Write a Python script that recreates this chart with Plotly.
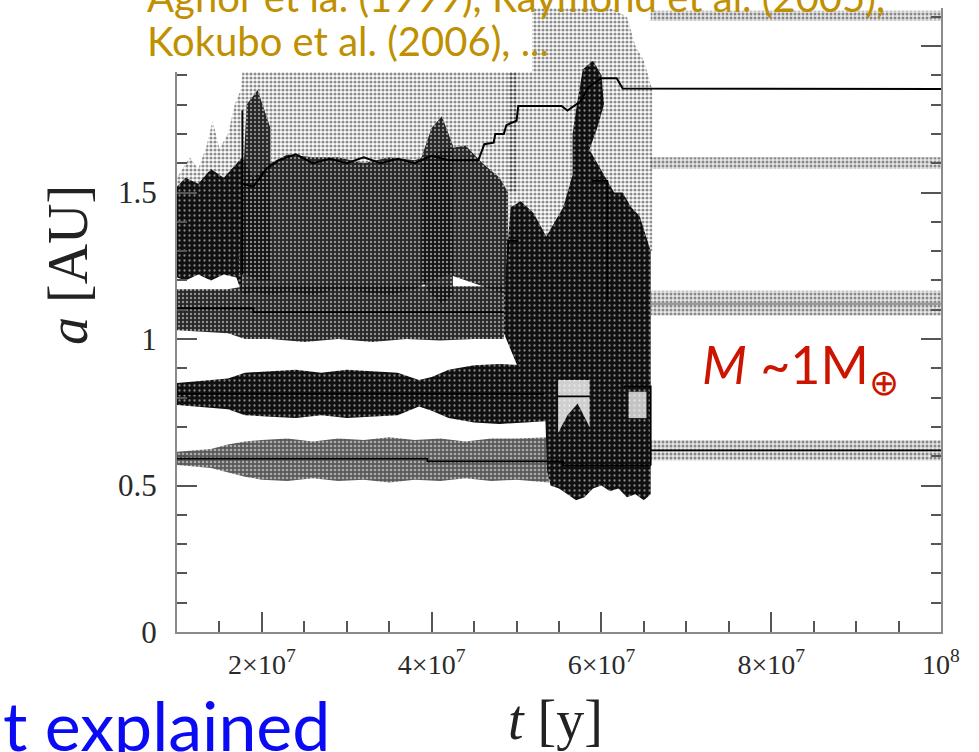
import plotly.graph_objects as go

MYR = 1e6  # time arrays below are in Myr

# ---------------- first stage: q/Q scatter envelopes (t [Myr], a [AU]) ----------------
p1_t  = [10, 12, 14, 16, 18, 20, 23, 26, 29, 32, 35, 38, 41, 44, 47, 50, 53.8]
p1_hi = [0.615, 0.62, 0.625, 0.64, 0.65, 0.655, 0.66, 0.65, 0.66, 0.655, 0.665, 0.655, 0.66, 0.65, 0.66, 0.66, 0.665]
p1_lo = [0.57, 0.565, 0.56, 0.545, 0.53, 0.52, 0.515, 0.525, 0.515, 0.52, 0.51, 0.52, 0.515, 0.525, 0.515, 0.52, 0.51]

p2_t  = [10, 12, 14, 16, 18, 21, 24, 27, 30, 33, 36, 38.5, 40, 42, 45, 48, 51, 53.8]
p2_hi = [0.85, 0.855, 0.86, 0.865, 0.885, 0.89, 0.895, 0.885, 0.895, 0.89, 0.885, 0.86, 0.87, 0.895, 0.91, 0.915, 0.91, 0.9]
p2_lo = [0.775, 0.77, 0.765, 0.76, 0.74, 0.735, 0.73, 0.74, 0.73, 0.735, 0.74, 0.77, 0.755, 0.73, 0.715, 0.71, 0.715, 0.72]

p3_t  = [10, 13, 16, 18, 21, 25, 29, 33, 37, 41, 45, 48.5]
p3_hi = [1.17, 1.17, 1.17, 1.18, 1.18, 1.18, 1.18, 1.18, 1.18, 1.18, 1.18, 1.18]
p3_lo = [1.03, 1.025, 1.02, 1.0, 1.0, 0.99, 1.0, 0.99, 1.0, 0.995, 1.0, 1.0]

# outer body, early (densest) and later pericentre scatter
p4e_t  = [10, 11, 12.5, 14, 15.5, 17, 17.7]
p4e_hi = [1.52, 1.55, 1.53, 1.58, 1.55, 1.6, 1.62]
p4e_lo = [1.21, 1.2, 1.22, 1.2, 1.22, 1.21, 1.15]
p4_t  = [17.7, 19, 21, 23, 26, 29, 32, 35, 38, 40, 42, 44, 46, 48, 49]
p4_hi = [1.62, 1.55, 1.6, 1.63, 1.62, 1.62, 1.6, 1.62, 1.61, 1.63, 1.65, 1.66, 1.6, 1.55, 1.5]
p4_lo = [1.15, 1.16, 1.15, 1.16, 1.15, 1.17, 1.16, 1.15, 1.17, 1.2, 1.22, 1.2, 1.18, 1.16, 1.15]

# sparse apocentre dots of the outer body
p4u_t  = [10, 11.5, 12.5, 13.5, 14.2, 15, 16, 16.8, 17.5, 18, 50]
p4u_hi = [1.55, 1.62, 1.58, 1.66, 1.745, 1.65, 1.7, 1.8, 1.85, 2.0, 2.0]
p4u_lo = [1.5, 1.5, 1.5, 1.5, 1.5, 1.5, 1.5, 1.5, 1.5, 1.5, 1.5]

# darker eccentric excursions of the outer body
col1_t = [17.3, 18.2, 19.5, 21.0, 21.0, 19.5, 18.2, 17.3]
col1_a = [1.25, 1.8, 1.85, 1.72, 1.2, 1.2, 1.22, 1.22]
col2_t = [38.8, 40.0, 41.2, 42.5, 42.5, 41.2, 40.0, 38.8]
col2_a = [1.62, 1.72, 1.76, 1.66, 1.15, 1.12, 1.15, 1.2]

# ---------------- giant-impact stage ----------------
ch_top_t = [48.5, 49.3, 50.5, 52.0, 53.5, 54.5, 55.5, 56.5, 57.5, 58.5, 59.5, 60.5, 61.5, 62.5, 63.5, 64.5, 65.3, 65.8]
ch_top_a = [1.15, 1.45, 1.47, 1.43, 1.35, 1.4, 1.45, 1.55, 1.62, 1.65, 1.6, 1.55, 1.5, 1.5, 1.45, 1.42, 1.35, 1.3]
ch_bot_t = [65.8, 65.0, 64.0, 63.0, 62.0, 61.0, 60.0, 59.0, 58.0, 57.0, 56.0, 55.0, 54.0, 53.6, 53.4, 52.0, 50.5, 49.5, 48.5]
ch_bot_a = [0.47, 0.45, 0.47, 0.46, 0.49, 0.48, 0.5, 0.49, 0.46, 0.45, 0.47, 0.49, 0.5, 0.55, 0.72, 0.74, 0.88, 0.95, 1.02]

knot_t = [57.0, 57.8, 59.0, 60.0, 60.3, 59.5, 58.0, 56.6, 56.6]
knot_a = [1.78, 1.92, 1.95, 1.9, 1.8, 1.72, 1.6, 1.55, 1.7]

sp_t  = [49, 52, 55, 58, 61, 63, 64, 65, 66]
sp_hi = [2.13, 2.13, 2.13, 2.13, 2.13, 2.1, 2.0, 1.95, 1.85]
sp_lo = [1.3, 1.3, 1.3, 1.3, 1.3, 1.3, 1.3, 1.3, 1.3]

hole_a_t = [54.9, 58.6, 58.6, 57.2, 56.0, 54.9]
hole_a_a = [0.86, 0.86, 0.70, 0.78, 0.74, 0.68]
hole_b_t = [63.2, 65.3, 65.3, 63.2]
hole_b_a = [0.82, 0.82, 0.73, 0.73]

# ---------------- final stage ----------------
fin_t = [65.8, 100]
fin_in_a, fin_in_lo, fin_in_hi = [0.62, 0.62], [0.585, 0.585], [0.655, 0.655]
fin_mid_a, fin_mid_lo, fin_mid_hi = [1.12, 1.12], [1.08, 1.08], [1.165, 1.165]
fin_q_lo, fin_q_hi = [1.58, 1.58], [1.62, 1.62]
fin_Q_lo, fin_Q_hi = [2.085, 2.085], [2.12, 2.12]

# ---------------- semimajor axes (solid lines) ----------------
a1_t = [10, 39.5, 55.5, 65.8]
a1_a = [0.592, 0.582, 0.568, 0.568]
a2_t = [10, 53.2, None, 54.8, 58.7, None, 62.6, 65.8, 65.8]
a2_a = [0.813, 0.813, None, 0.804, 0.804, None, 0.838, 0.838, 0.568]
a3_t = [10, 19, 48.5, None, 49.0, 49.0, 50.2]
a3_a = [1.105, 1.092, 1.092, None, 1.29, 1.335, 1.335]
a4_t = [17.7, 19, 20.5, 22, 24, 26, 28, 30, 32, 34, 36, 38, 40, 42, 43, 45.5, 46.2, 47.3,
        47.5, 48.5, 48.8, 50.0, 50.2, 55.3, 56.0, 57.5, 58.5, 60.0, 61.8, 62.5, 100]
a4_a = [1.53, 1.52, 1.58, 1.61, 1.63, 1.6, 1.615, 1.6, 1.62, 1.6, 1.615, 1.6, 1.625, 1.61, 1.61, 1.61, 1.665, 1.67,
        1.70, 1.70, 1.73, 1.745, 1.795, 1.795, 1.78, 1.81, 1.86, 1.89, 1.89, 1.855, 1.853]
a5_t = [17.7, 17.7, None, 58.9, 60.7, 60.7]
a5_a = [1.22, 1.78, None, 1.54, 1.54, 1.13]

xticks = [2e7, 4e7, 6e7, 8e7, 1e8]
xticktext = ["2×10<sup>7</sup>", "4×10<sup>7</sup>", "6×10<sup>7</sup>", "8×10<sup>7</sup>", "10<sup>8</sup>"]
yticks = [0, 0.5, 1, 1.5, 2]
yticktext = ["0", "0.5", "1", "1.5", ""]

# stipple textures for the scattered q/Q points
BLACK = dict(shape=".", fgcolor="#ffffff", bgcolor="#101010", size=5, solidity=0.16)
DARK = dict(shape=".", fgcolor="#ffffff", bgcolor="rgba(15,15,15,0.9)", size=4, solidity=0.28)
MID = dict(shape=".", fgcolor="#ffffff", bgcolor="rgba(25,25,25,0.72)", size=4, solidity=0.35)
DOTS = dict(shape=".", fgcolor="#1e1e1e", bgcolor="rgba(255,255,255,0)", size=4, solidity=0.5)
FINE = dict(shape=".", fgcolor="#2a2a2a", bgcolor="rgba(160,160,160,0.25)", size=4, solidity=0.45)

fig = go.Figure()


def yrs(t):
    return [None if v is None else v * MYR for v in t]


def band(t, lo, hi, pattern):
    xs = yrs(t) + yrs(t[::-1])
    ys = list(hi) + list(lo[::-1])
    fig.add_trace(go.Scatter(x=xs, y=ys, mode="lines", fill="toself", line=dict(width=0),
                             fillcolor="rgba(0,0,0,0)", fillpattern=pattern,
                             hoverinfo="skip", showlegend=False))


def poly(t, a, fillcolor, pattern=None):
    fig.add_trace(go.Scatter(x=yrs(t), y=a, mode="lines", fill="toself", line=dict(width=0),
                             fillcolor=fillcolor, fillpattern=pattern,
                             hoverinfo="skip", showlegend=False))


def curve(t, a, color="#000000", width=1.8, shape="linear"):
    fig.add_trace(go.Scatter(x=yrs(t), y=a, mode="lines", line=dict(color=color, width=width, shape=shape),
                             connectgaps=False, hoverinfo="skip", showlegend=False))


# scatter envelopes
band(p4u_t, p4u_lo, p4u_hi, DOTS)
band(sp_t, sp_lo, sp_hi, DOTS)
band(p4e_t, p4e_lo, p4e_hi, BLACK)
band(p4_t, p4_lo, p4_hi, DARK)
poly(col1_t, col1_a, "rgba(0,0,0,0)", DARK)
poly(col2_t, col2_a, "rgba(0,0,0,0)", DARK)
band(p3_t, p3_lo, p3_hi, DARK)
band(p2_t, p2_lo, p2_hi, BLACK)
band(p1_t, p1_lo, p1_hi, MID)
poly(ch_top_t + ch_bot_t, ch_top_a + ch_bot_a, "rgba(0,0,0,0)", BLACK)
poly(knot_t, knot_a, "rgba(0,0,0,0)", BLACK)
poly(hole_a_t, hole_a_a, "rgba(255,255,255,0.8)")
poly(hole_b_t, hole_b_a, "rgba(255,255,255,0.75)")

band(fin_t, fin_in_lo, fin_in_hi, FINE)
band(fin_t, fin_mid_lo, fin_mid_hi, FINE)
band(fin_t, fin_q_lo, fin_q_hi, FINE)
band(fin_t, fin_Q_lo, fin_Q_hi, FINE)

# semimajor axes
curve(a1_t, a1_a, shape="hv")
curve(a2_t, a2_a)
curve(a3_t, a3_a, shape="hv")
curve(a4_t, a4_a, width=2)
curve(a5_t, a5_a)
curve(fin_t, fin_in_a)
curve(fin_t, fin_mid_a, color="#9a9a9a", width=2.2)

# plot area in pixels: x 177..941, y 8..632
L, R, T, B = 177, 941, 8, 632


def px(x):
    return (x - L) / (R - L)


def py(y):
    return (B - y) / (B - T)


serif = "Liberation Serif, DejaVu Serif, serif"
xtickfont = dict(family=serif, size=28, color="#2a2a2a")
ytickfont = dict(family=serif, size=31, color="#2a2a2a")

fig.update_layout(
    width=979, height=752,
    margin=dict(l=L, r=979 - R, t=T, b=752 - B),
    plot_bgcolor="white", paper_bgcolor="white",
    showlegend=False,
    xaxis=dict(range=[1e7, 1e8], tickvals=xticks, ticktext=xticktext, ticks="inside", ticklen=20,
               tickwidth=1.5, tickcolor="#555555", showline=True, linecolor="#8a8a8a", linewidth=2,
               mirror=False, showgrid=False, zeroline=False, tickfont=xtickfont, ticklabelstandoff=6,
               minor=dict(dtick=5e6, tick0=0, ticks="inside", ticklen=11, tickwidth=1.5,
                          tickcolor="#555555", showgrid=False)),
    yaxis=dict(range=[0, (B - T) / 293.0], tickvals=yticks, ticktext=yticktext, ticks="inside", ticklen=20,
               tickwidth=1.5, tickcolor="#555555", showline=True, linecolor="#8a8a8a", linewidth=2,
               mirror="ticks", showgrid=False, zeroline=False, tickfont=ytickfont, ticklabelstandoff=12,
               minor=dict(dtick=0.1, tick0=0, ticks="inside", ticklen=10, tickwidth=1.5,
                          tickcolor="#555555", showgrid=False)),
    shapes=[dict(type="rect", xref="paper", yref="paper", x0=px(140), x1=px(532), y0=py(72), y1=py(-2),
                 fillcolor="white", line=dict(width=0), layer="above")],
)

gold = "#BF9000"
fig.add_annotation(xref="paper", yref="paper", x=px(145), y=py(-3), xanchor="left", yanchor="middle",
                   text="Agnor et la. (1999), Raymond et al. (2005),", showarrow=False,
                   font=dict(family="Lato, Open Sans, sans-serif", size=40, color=gold))
fig.add_annotation(xref="paper", yref="paper", x=px(145), y=py(41), xanchor="left", yanchor="middle",
                   text="Kokubo et al. (2006), ...", showarrow=False,
                   font=dict(family="Lato, Open Sans, sans-serif", size=40, color=gold))

fig.add_annotation(xref="paper", yref="paper", x=px(700), y=py(368), xanchor="left", yanchor="middle",
                   text="<i>M</i> ~1M<sub>⊕</sub>", showarrow=False,
                   font=dict(family="Lato, Open Sans, sans-serif", size=52, color="#CC1500"))

fig.add_annotation(xref="paper", yref="paper", x=px(1), y=py(724), xanchor="left", yanchor="middle",
                   text="t explained", showarrow=False,
                   font=dict(family="Lato, Open Sans, sans-serif", size=68, color="#0A0AF5"))

fig.add_annotation(xref="paper", yref="paper", x=px(68), y=py(265), xanchor="center", yanchor="middle",
                   text="<i>a</i> [AU]", textangle=-90, showarrow=False,
                   font=dict(family=serif, size=56, color="#222222"))
fig.add_annotation(xref="paper", yref="paper", x=px(555), y=py(720), xanchor="center", yanchor="middle",
                   text="<i>t</i> [y]", showarrow=False,
                   font=dict(family=serif, size=56, color="#222222"))

fig.write_html("out.html")
